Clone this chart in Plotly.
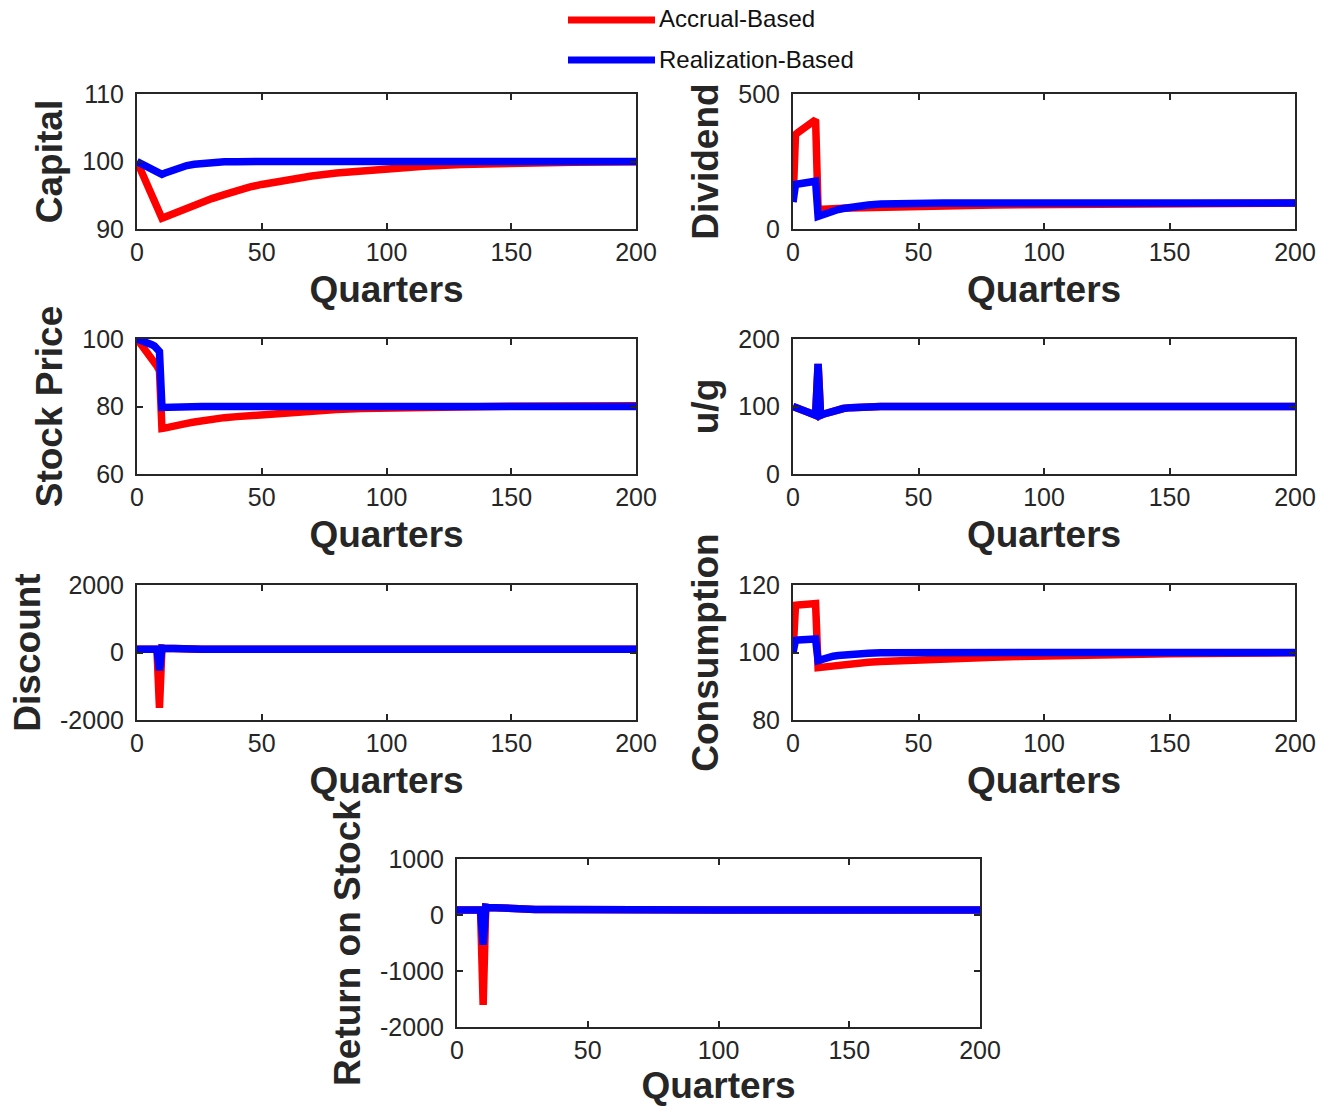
import plotly.graph_objects as go

W, H = 1324, 1106

# ---------------- data ----------------
quarters = [0, 1, 2, 3, 4, 5, 6, 7, 8, 9, 10, 11, 12, 14, 16, 18, 20, 23, 26, 30,
            35, 40, 45, 50, 60, 70, 80, 90, 100, 115, 130, 150, 175, 200]

capital_accrual = [100, 99.1, 98.3, 97.4, 96.6, 95.7, 94.9, 94.1, 93.2, 92.4, 91.6, 91.75, 91.9,
                   92.3, 92.6, 92.9, 93.2, 93.7, 94.1, 94.5, 95.1, 95.7, 96.2, 96.6, 97.3,
                   97.85, 98.3, 98.65, 98.95, 99.3, 99.55, 99.75, 99.88, 99.95]
capital_realization = [100, 99.8, 99.6, 99.45, 99.25, 99.05, 98.85, 98.7, 98.5, 98.3, 98.1, 98.25,
                       98.4, 98.7, 99.0, 99.2, 99.4, 99.6, 99.75, 99.88, 99.95, 99.98, 100, 100,
                       100, 100, 100, 100, 100, 100, 100, 100, 100, 100]

dividend_accrual = [100, 350, 357, 364, 371, 378, 385, 392, 399, 405, 72, 73, 73.5, 74.5, 75.5,
                    76.5, 77, 78, 79, 80, 81, 82, 83, 84, 86, 87.5, 89, 90, 91, 92.5, 93.5,
                    94.5, 95.5, 96]
dividend_realization = [100, 165, 166.5, 168, 169.5, 171, 172.5, 174, 175.5, 177, 47, 51, 55, 62,
                        67, 72, 76, 81, 85, 89, 92.5, 94.5, 95.5, 96, 96, 96, 96, 96, 96, 96,
                        96, 96, 96, 96]

stock_accrual = [100, 99.1, 98.2, 97.2, 96.2, 95.2, 94.2, 93.2, 92.0, 90.6, 73.5, 73.6, 73.8,
                 74.1, 74.4, 74.7, 75.0, 75.4, 75.8, 76.3, 76.7, 77.0, 77.3, 77.6, 78.2, 78.7,
                 79.1, 79.4, 79.6, 79.85, 80.0, 80.1, 80.15, 80.2]
stock_realization = [100, 99.8, 99.6, 99.3, 99.0, 98.7, 98.3, 97.9, 97.3, 96.3, 79.7, 79.75,
                     79.8, 79.85, 79.9, 79.95, 80, 80, 80, 80, 80, 80, 80, 80, 80, 80, 80, 80,
                     80, 80, 80, 80, 80, 80]

ug_realization = [100, 99, 97.5, 96, 94.5, 93, 91.5, 90, 88.5, 87, 163, 87, 88.5, 91, 93.5,
                  95.5, 97, 98.3, 99.1, 99.6, 99.9, 100, 100, 100, 100, 100, 100, 100, 100,
                  100, 100, 100, 100, 100]
ug_accrual = [100, 99, 97.5, 96, 94.5, 93, 91.5, 90, 88.5, 87, 163, 87, 88.5, 91, 93.5,
              95.5, 97, 98.3, 99.1, 99.6, 99.9, 100, 100, 100, 100, 100, 100, 100, 100,
              100, 100, 100, 100, 100]

discount_accrual = [95, 95, 95, 95, 95, 95, 95, 95, 95, -1640, 130, 125, 120, 113, 108, 104,
                    101, 98, 97, 96, 95, 95, 95, 95, 95, 95, 95, 95, 95, 95, 95, 95, 95, 95]
discount_realization = [95, 95, 95, 95, 95, 95, 95, 95, 95, -525, 130, 125, 120, 113, 108, 104,
                        101, 98, 97, 96, 95, 95, 95, 95, 95, 95, 95, 95, 95, 95, 95, 95, 95, 95]

consumption_accrual = [100, 114.0, 114.1, 114.1, 114.2, 114.2, 114.3, 114.3, 114.4, 114.5, 95.5,
                       95.6, 95.7, 95.9, 96.1, 96.3, 96.5, 96.7, 96.9, 97.1, 97.3, 97.5, 97.7,
                       97.8, 98.1, 98.4, 98.6, 98.8, 99.0, 99.2, 99.4, 99.6, 99.8, 99.9]
consumption_realization = [100, 103.6, 103.7, 103.7, 103.8, 103.8, 103.9, 103.9, 104.0, 104.0,
                           97.6, 97.9, 98.2, 98.6, 98.9, 99.1, 99.3, 99.5, 99.65, 99.8, 99.9,
                           99.95, 100, 100, 100, 100, 100, 100, 100, 100, 100, 100, 100, 100]

return_accrual = [88, 88, 88, 88, 88, 88, 88, 88, 88, 88, -1605, 140, 135, 128, 122, 117, 113,
                  108, 104, 100, 96, 93, 91, 90, 89, 88.5, 88, 88, 88, 88, 88, 88, 88, 88]
return_realization = [88, 88, 88, 88, 88, 88, 88, 88, 88, 88, -530, 140, 135, 128, 122, 117, 113,
                      108, 104, 100, 96, 93, 91, 90, 89, 88.5, 88, 88, 88, 88, 88, 88, 88, 88]

series_names = ["Accrual-Based", "Realization-Based"]
panel_titles = ["Capital", "Dividend", "Stock Price", "u/g", "Discount", "Consumption",
                "Return on Stock"]
x_title = "Quarters"
x_ticks = [0, 50, 100, 150, 200]

capital_ticks = [90, 100, 110]
dividend_ticks = [0, 500]
stock_ticks = [60, 80, 100]
ug_ticks = [0, 100, 200]
discount_ticks = [-2000, 0, 2000]
discount_ticktext = ["-2000", "0", "2000"]
consumption_ticks = [80, 100, 120]
return_ticks = [-2000, -1000, 0, 1000]
return_ticktext = ["-2000", "-1000", "0", "1000"]

# ---------------- layout geometry (pixels) ----------------
panels = [
    # (accrual, realization, y_range, ticks, ticktext, x0, x1, ytop, ybot)
    (capital_accrual, capital_realization, [90, 110], capital_ticks, None, 137, 636, 94, 229),
    (dividend_accrual, dividend_realization, [0, 500], dividend_ticks, None, 793, 1295, 94, 229),
    (stock_accrual, stock_realization, [60, 100], stock_ticks, None, 137, 636, 339, 474),
    (ug_accrual, ug_realization, [0, 200], ug_ticks, None, 793, 1295, 339, 474),
    (discount_accrual, discount_realization, [-2000, 2000], discount_ticks, discount_ticktext,
     137, 636, 585, 720),
    (consumption_accrual, consumption_realization, [80, 120], consumption_ticks, None,
     793, 1295, 585, 720),
    (return_accrual, return_realization, [-2000, 1000], return_ticks, return_ticktext,
     457, 980, 859, 1027),
]

RED = "#FF0000"
BLUE = "#0000FF"
INK = "#262626"
FONT = "Liberation Sans, Arial, Helvetica, sans-serif"

fig = go.Figure()
layout = {}
for i, (acc, rea, yr, yt, ytt, x0, x1, yt_px, yb_px) in enumerate(panels):
    n = i + 1
    xa = "x" if n == 1 else f"x{n}"
    ya = "y" if n == 1 else f"y{n}"
    fig.add_trace(go.Scatter(x=quarters, y=acc, mode="lines", name=series_names[0],
                             line=dict(color=RED, width=7.5), xaxis=xa, yaxis=ya,
                             showlegend=False))
    fig.add_trace(go.Scatter(x=quarters, y=rea, mode="lines", name=series_names[1],
                             line=dict(color=BLUE, width=7.5), xaxis=xa, yaxis=ya,
                             showlegend=False))
    axcommon = dict(showline=True, linecolor=INK, linewidth=2, mirror="ticks",
                    ticks="inside", ticklen=6, tickwidth=1.5, tickcolor=INK,
                    showgrid=False, zeroline=False, automargin=False,
                    tickfont=dict(family=FONT, size=25, color=INK))
    layout["xaxis" if n == 1 else f"xaxis{n}"] = dict(
        axcommon, domain=[x0 / W, x1 / W], range=[0, 200], tickvals=x_ticks,
        anchor=ya, ticklabelstandoff=0,
        title=dict(text=f"<b>{x_title}</b>", standoff=11,
                   font=dict(family=FONT, size=37, color=INK)))
    ydict = dict(axcommon, domain=[1 - yb_px / H, 1 - yt_px / H], range=yr, tickvals=yt,
                 anchor=xa, ticklabelstandoff=6,
                 title=dict(text=f"<b>{panel_titles[i]}</b>", standoff=8,
                            font=dict(family=FONT, size=37, color=INK)))
    if ytt is not None:
        ydict["ticktext"] = ytt
    layout["yaxis" if n == 1 else f"yaxis{n}"] = ydict

# legend drawn as line samples + labels
legend_colors = [RED, BLUE]
legend_y_px = [20, 60]
shapes = []
annotations = []
for name, col, ypx in zip(series_names, legend_colors, legend_y_px):
    shapes.append(dict(type="line", xref="paper", yref="paper",
                       x0=568 / W, x1=655 / W, y0=1 - ypx / H, y1=1 - ypx / H,
                       line=dict(color=col, width=7)))
    annotations.append(dict(text=name, xref="paper", yref="paper", x=657 / W, y=1 - (ypx - 1) / H,
                            xanchor="left", yanchor="middle", showarrow=False,
                            font=dict(family=FONT, size=24, color="#111111")))

fig.update_layout(
    **layout,
    width=W, height=H,
    margin=dict(l=0, r=0, t=0, b=0, autoexpand=False),
    paper_bgcolor="white", plot_bgcolor="white",
    shapes=shapes, annotations=annotations,
    showlegend=False,
)

fig.write_html("out.html")
